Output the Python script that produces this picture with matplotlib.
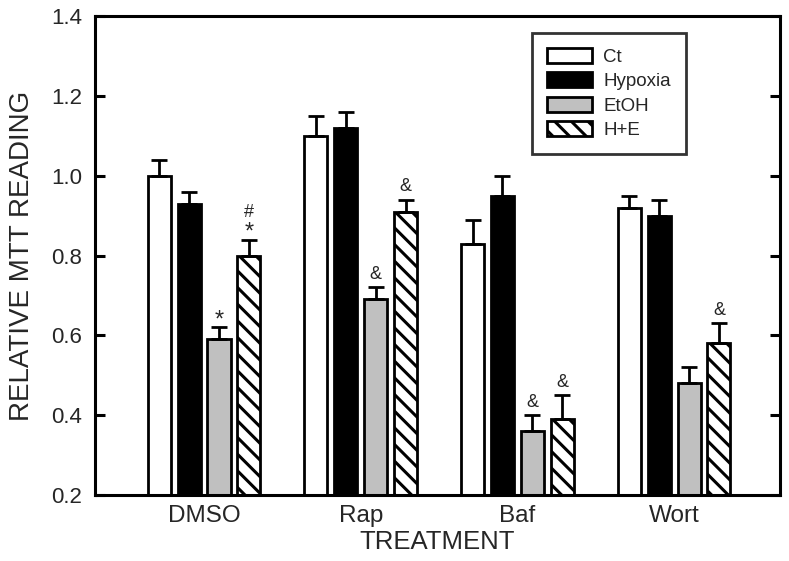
import numpy as np
import matplotlib
matplotlib.use("Agg")
import matplotlib.pyplot as plt

plt.rcParams['font.family'] = ['Liberation Sans', 'DejaVu Sans']
plt.rcParams['hatch.linewidth'] = 2.2

treatments = ["DMSO", "Rap", "Baf", "Wort"]
series = ["Ct", "Hypoxia", "EtOH", "H+E"]

ct = [1.00, 1.10, 0.83, 0.92]
hypoxia = [0.93, 1.12, 0.95, 0.90]
etoh = [0.59, 0.69, 0.36, 0.48]
h_e = [0.80, 0.91, 0.39, 0.58]

ct_err = [0.04, 0.05, 0.06, 0.03]
hypoxia_err = [0.03, 0.04, 0.05, 0.04]
etoh_err = [0.03, 0.03, 0.04, 0.04]
h_e_err = [0.04, 0.03, 0.06, 0.05]

# significance marks per series, one per treatment (stacked bottom to top)
etoh_marks = ["*", "&", "&", ""]
h_e_marks = ["*#", "&", "&", "&"]

values = [ct, hypoxia, etoh, h_e]
errors = [ct_err, hypoxia_err, etoh_err, h_e_err]
marks = [[""] * 4, [""] * 4, etoh_marks, h_e_marks]
faces = ["white", "black", "#c0c0c0", "white"]
hatches = [None, None, None, "\\\\"]
mark_size = {"*": 17, "&": 13, "#": 13}
mark_base = {"*": -3, "&": 3, "#": 3}

fig = plt.figure(figsize=(7.89, 5.61), dpi=100)
ax = fig.add_axes([0.1204, 0.1176, 0.8682, 0.8539])

x = np.arange(len(treatments))
width = 0.147
step = 0.191
text_color = "#262626"

for i, name in enumerate(series):
    pos = x + (i - 1.5) * step
    ax.bar(pos, values[i], width, bottom=0, color=faces[i], edgecolor="black",
           linewidth=2.0, hatch=hatches[i], label=name, zorder=2)
    ax.errorbar(pos, values[i], yerr=[np.zeros(4), errors[i]], fmt="none",
                ecolor="black", elinewidth=2.0, capsize=5.5, capthick=2.0, zorder=3)
    for j in range(4):
        for k, m in enumerate(marks[i][j]):
            ax.annotate(m, (pos[j], values[i][j] + errors[i][j]),
                        xytext=(0, mark_base[m] + 10 * k), textcoords="offset points",
                        ha="center", va="bottom", fontsize=mark_size[m],
                        color=text_color)

ax.set_ylim(0.2, 1.4)
ax.set_xlim(-0.696, 3.676)
ax.set_yticks([0.2, 0.4, 0.6, 0.8, 1.0, 1.2, 1.4])
ax.set_yticklabels(["0.2", "0.4", "0.6", "0.8", "1.0", "1.2", "1.4"])
ax.set_xticks(x)
ax.set_xticklabels(treatments)

for s in ax.spines.values():
    s.set_linewidth(2.2)

ax.tick_params(axis="y", direction="in", length=7, width=2.2, right=True,
               labelsize=16, pad=9, labelcolor=text_color)
ax.tick_params(axis="x", length=0, labelsize=17.5, pad=7, labelcolor=text_color)

ax.set_ylabel("RELATIVE MTT READING", fontsize=20, color=text_color, labelpad=12)
ax.set_xlabel("TREATMENT", fontsize=18.5, color=text_color, labelpad=2)

leg = ax.legend(loc="upper left", bbox_to_anchor=(0.638, 0.9645), fontsize=13.5,
                frameon=True, fancybox=False, edgecolor="black",
                borderaxespad=0, handlelength=2.4, handleheight=0.84,
                labelspacing=0.35, borderpad=0.8, handletextpad=0.6)
leg.get_frame().set_linewidth(2.0)
for t in leg.get_texts():
    t.set_color(text_color)

fig.savefig("out.png", dpi=100)
